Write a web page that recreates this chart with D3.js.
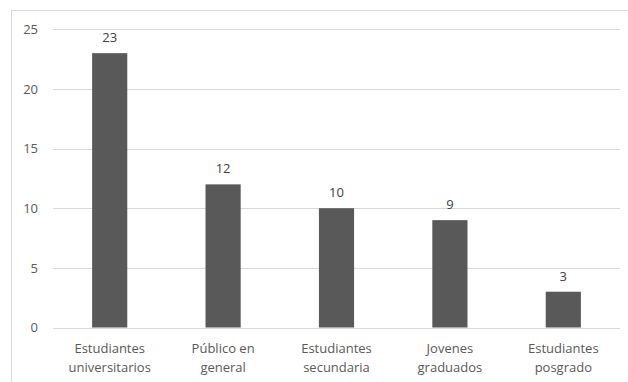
<!DOCTYPE html>
<html><head><meta charset="utf-8">
<script src="https://cdn.jsdelivr.net/npm/d3@7"></script>
<style>body{margin:0;background:#fff}svg{display:block}</style>
</head><body>
<script>
const categories = [["Estudiantes","universitarios"],["Público en","general"],["Estudiantes","secundaria"],["Jovenes","graduados"],["Estudiantes","posgrado"]];
const values = [23, 12, 10, 9, 3];
const yTicks = [0, 5, 10, 15, 20, 25];

(function () {
const W = 628, H = 382;
const svg = d3.select("body").append("svg").attr("width", W).attr("height", H);
const font = "Open Sans, sans-serif";

svg.append("rect").attr("x", 11.5).attr("y", 10.5).attr("width", W).attr("height", H)
  .attr("fill", "#fff").attr("stroke", "#d9d9d9");

const mLeft = 53, mRight = 620, mTop = 29.3, mBottom = 327.5;
const x = d3.scaleBand().domain(d3.range(categories.length)).range([mLeft, mRight]).paddingInner(0.69).paddingOuter(0.345);
const y = d3.scaleLinear().domain([0, 25]).range([mBottom, mTop]);

const grid = svg.append("g");
grid.selectAll("line").data(yTicks).join("line")
  .attr("x1", mLeft).attr("x2", mRight)
  .attr("y1", d => Math.round(y(d)) + 0.5).attr("y2", d => Math.round(y(d)) + 0.5)
  .attr("stroke", "#d9d9d9").attr("stroke-width", 1);

const yAxis = d3.axisLeft(y).tickValues(yTicks).tickSize(0).tickPadding(0);
const ya = svg.append("g").attr("transform", `translate(38,0)`).call(yAxis);
ya.select(".domain").remove();
ya.selectAll("text").attr("font-family", font).attr("font-size", 13).attr("fill", "#595959");

svg.append("g").selectAll("rect").data(values).join("rect")
  .attr("x", (d, i) => x(i)).attr("width", x.bandwidth())
  .attr("y", d => y(d)).attr("height", d => y(0) - y(d))
  .attr("fill", "#595959");

svg.append("g").selectAll("text").data(values).join("text")
  .attr("x", (d, i) => x(i) + x.bandwidth() / 2).attr("y", d => y(d) - 11)
  .attr("text-anchor", "middle").attr("font-family", font).attr("font-size", 13)
  .attr("fill", "#404040").text(d => d);

const xAxis = d3.axisBottom(x).tickSize(0).tickFormat(() => "");
const xa = svg.append("g").attr("transform", `translate(0,${mBottom})`).call(xAxis);
xa.select(".domain").remove();
xa.selectAll(".tick").each(function(d) {
  const t = d3.select(this).append("text").attr("text-anchor", "middle")
    .attr("font-family", font).attr("font-size", 13).attr("fill", "#595959");
  categories[d].forEach((s, k) => t.append("tspan").attr("x", 0).attr("y", 25 + k * 19).text(s));
});
})();
</script>
</body></html>
